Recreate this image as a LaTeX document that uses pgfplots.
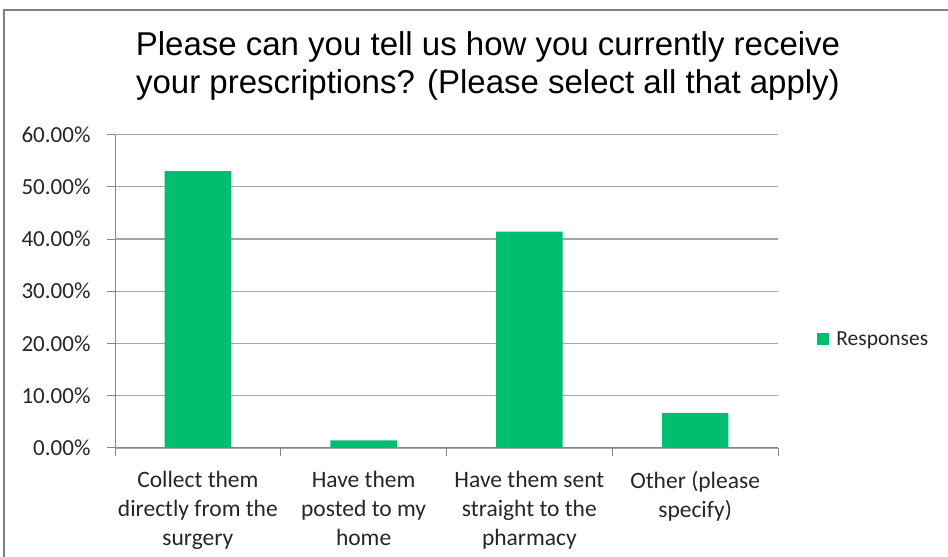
\documentclass[border=0pt]{standalone}
\usepackage{pgfplots}
\pgfplotsset{compat=1.18}
\usepackage{fontspec}
\setmainfont{Carlito}
\newfontfamily\arialfont{Liberation Sans}
\definecolor{bargreen}{RGB}{0,190,112}
\definecolor{gridgray}{RGB}{165,165,165}
\definecolor{axisgray}{RGB}{134,134,134}
\definecolor{bordergray}{RGB}{128,128,128}
\begin{document}
\begin{tikzpicture}[x=1pt,y=1pt]
\useasboundingbox (0,0) rectangle (948,557);
\draw[bordergray, line width=2pt] (4,-20) -- (4,547) -- (970,547);
\begin{axis}[
  at={(115pt,109pt)}, anchor=south west,
  scale only axis, width=663pt, height=313.5pt,
  xmin=-0.5, xmax=3.5, ymin=0, ymax=60,
  ybar, bar width=66.7pt,
  axis x line*=bottom, axis y line*=left,
  axis line style={axisgray, line width=1pt, -},
  xtick={-0.5,0.5,1.5,2.5,3.5},
  x tick label as interval,
  xticklabels={{Collect them\\directly from the\\surgery},{Have them\\posted to my\\home},{Have them sent\\straight to the\\pharmacy},{Other (please\\specify)}},
  xticklabel style={align=center, font=\fontsize{23.5}{29}\selectfont, text=black!85, anchor=north, yshift=-12pt},
  ytick={0,10,20,30,40,50,60},
  yticklabels={0.00\%,10.00\%,20.00\%,30.00\%,40.00\%,50.00\%,60.00\%},
  yticklabel style={font=\fontsize{23}{26}\selectfont, text=black!85, anchor=east, xshift=-13pt},
  tick align=outside, major tick length=8pt,
  tick style={axisgray, line width=1pt},
  ymajorgrids, grid style={gridgray, line width=1.3pt},
  title={Please can you tell us how you currently receive\\your prescriptions? (Please select all that apply)},
  title style={font=\arialfont\fontsize{33}{38}\selectfont, align=center, at={(0.5626,1.2265)}, anchor=center, yshift=-8pt},
  legend style={at={(1.0584,0.348)}, anchor=west, draw=none, fill=none, font=\fontsize{21.5}{26}\selectfont, text=black!85, inner sep=0pt,
    /tikz/every odd column/.append style={column sep=5pt}},
  legend image code/.code={\fill[bargreen] (0pt,-6.25pt) rectangle (12.5pt,6.25pt);},
]
\addplot[fill=bargreen, draw=none] coordinates {(0,53.01) (1,1.47) (2,41.40) (3,6.70)};
\addlegendentry{Responses}
\end{axis}
\end{tikzpicture}
\end{document}
